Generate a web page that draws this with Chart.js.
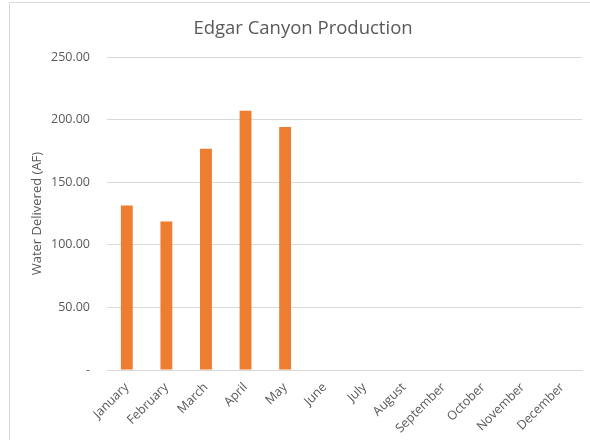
<!DOCTYPE html>
<html>
<head>
<meta charset="utf-8">
<script src="https://cdn.jsdelivr.net/npm/chart.js@4/dist/chart.umd.min.js"></script>
<style>
html,body{margin:0;padding:0;background:#fff;}
#wrap{position:relative;width:590px;height:440px;}
#frame{position:absolute;left:9px;top:2px;width:600px;height:460px;border-left:1px solid #d9d9d9;border-top:1px solid #d9d9d9;box-sizing:border-box;}
canvas{position:absolute;left:0;top:0;}
</style>
</head>
<body>
<div id="wrap"><div id="frame"></div><canvas id="c" width="590" height="440"></canvas></div>
<script>
const categories = ["January","February","March","April","May","June","July","August","September","October","November","December"];
const waterDelivered = [131.4, 118.6, 176.8, 207.2, 194.3, null, null, null, null, null, null, null];
const yTicks = [0, 50, 250];

const font = "'Open Sans', 'Liberation Sans', sans-serif";
Chart.defaults.font.family = font;
Chart.defaults.color = '#595959';

new Chart(document.getElementById('c'), {
  type: 'bar',
  data: {
    labels: categories,
    datasets: [{
      label: 'Water Delivered (AF)',
      data: waterDelivered,
      backgroundColor: '#ED7D31',
      borderWidth: 0,
      categoryPercentage: 1,
      barPercentage: 0.3
    }]
  },
  options: {
    responsive: false,
    animation: false,
    layout: { padding: { left: 24, right: 8, top: 0, bottom: 0 } },
    plugins: {
      legend: { display: false },
      tooltip: { enabled: false },
      title: {
        display: true,
        text: 'Edgar Canyon Production',
        color: '#595959',
        font: { size: 18.5, weight: 'normal', family: font },
        padding: { top: 18, bottom: 17 }
      }
    },
    scales: {
      x: {
        grid: { display: false, drawTicks: false },
        border: { display: true, color: '#d9d9d9', width: 1 },
        ticks: {
          maxRotation: 45, minRotation: 45,
          font: { size: 12.5 }, color: '#595959', padding: 10, autoSkip: false
        },
        afterFit: (s) => { s.height = 70; }
      },
      y: {
        min: yTicks[0],
        max: yTicks[2],
        border: { display: false },
        grid: { color: '#d9d9d9', drawTicks: false, lineWidth: 1 },
        ticks: {
          stepSize: yTicks[1],
          font: { size: 12.5 },
          color: '#595959',
          padding: 17,
          callback: (v) => v === 0 ? '-' : Number(v).toFixed(2)
        },
        title: {
          display: true,
          text: 'Water Delivered (AF)',
          color: '#595959',
          font: { size: 13, weight: 'normal' },
          padding: { top: 5, bottom: 2 }
        },
        afterFit: (s) => { s.width = 83; }
      }
    }
  }
});
</script>
</body>
</html>
